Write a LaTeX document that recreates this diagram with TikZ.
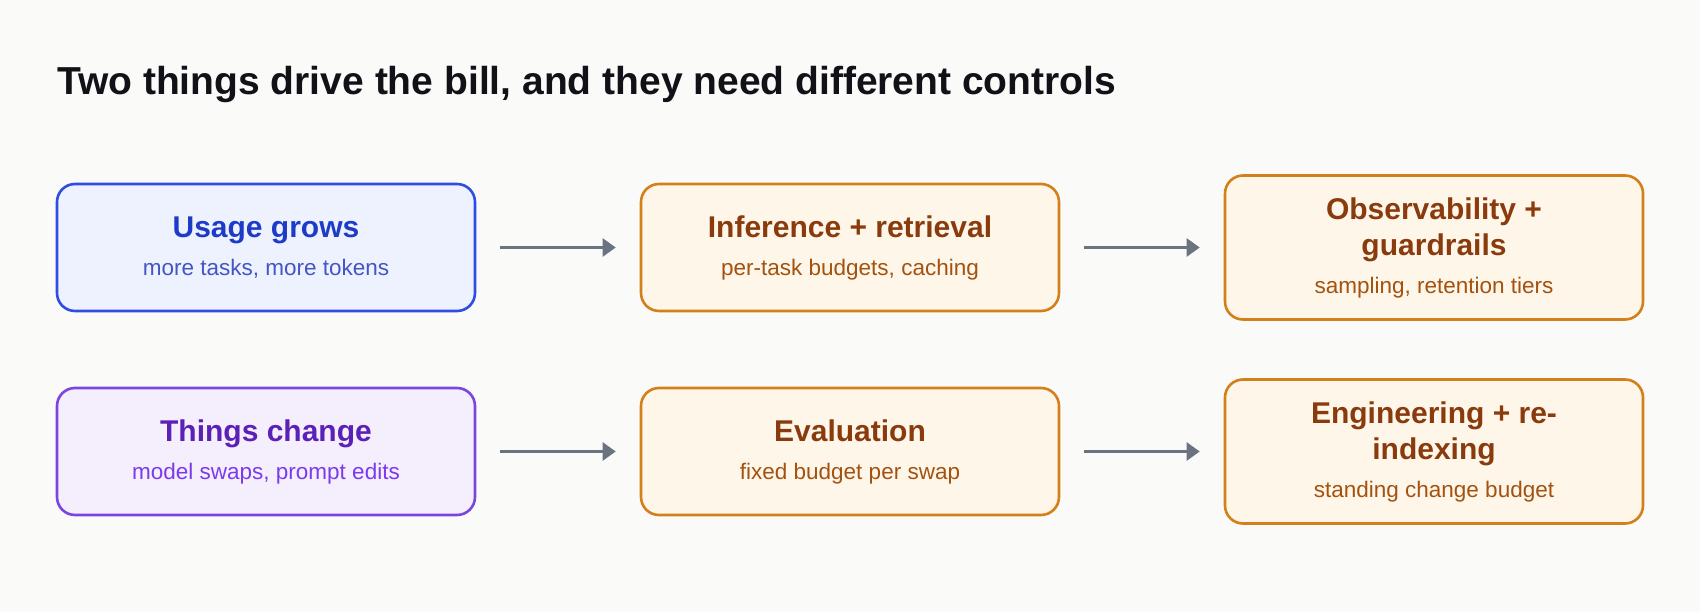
\documentclass[tikz,border=0pt]{standalone}
\usepackage{fontspec}
\setmainfont{Liberation Sans}
\usepackage{tikz}
\usetikzlibrary{arrows.meta}

\definecolor{bgcol}{HTML}{FAFAF9}
\definecolor{headcol}{HTML}{111118}
\definecolor{bluedraw}{HTML}{2D4DE3}
\definecolor{bluefill}{HTML}{EEF2FF}
\definecolor{bluehead}{HTML}{1E3BC8}
\definecolor{bluesub}{HTML}{4356C4}
\definecolor{purpdraw}{HTML}{7B45E0}
\definecolor{purpfill}{HTML}{F4EEFD}
\definecolor{purphead}{HTML}{5B21B6}
\definecolor{purpsub}{HTML}{7C3AED}
\definecolor{orandraw}{HTML}{D4801A}
\definecolor{oranfill}{HTML}{FFF6EA}
\definecolor{oranhead}{HTML}{8A3B0E}
\definecolor{oransub}{HTML}{A3520F}
\definecolor{arrowcol}{HTML}{6B7280}

\tikzset{
  card/.style={rounded corners=18pt, line width=2.6pt, minimum width=418pt,
    minimum height=127pt, align=center, inner sep=0pt,
    font=\fontsize{22.5}{38}\selectfont},
  bluecard/.style={card, draw=bluedraw, fill=bluefill},
  purpcard/.style={card, draw=purpdraw, fill=purpfill},
  orancard/.style={card, draw=orandraw, fill=oranfill},
  tallcard/.style={orancard, minimum height=144pt},
  flow/.style={-{Triangle[length=13pt,width=18pt]}, line width=2.6pt, draw=arrowcol,
    shorten <=24pt, shorten >=24pt}
}

\newcommand{\cardhead}[2]{\textcolor{#1}{\fontsize{30}{36}\selectfont\bfseries #2}}
\newcommand{\cardsub}[2]{\textcolor{#1}{#2}}

\begin{document}
\begin{tikzpicture}[x=1pt,y=-1pt]
        \fill[bgcol] (0,0) rectangle (1700,612);
        \useasboundingbox (0,0) rectangle (1700,612);
        \node[anchor=base west, inner sep=0pt, text=headcol, font=\fontsize{39}{44}\selectfont\bfseries] (heading) at (57,95) {Two things drive the bill, and they need different controls};
        % usage row
        \node[bluecard] (usage) at (266,247.5) {\cardhead{bluehead}{Usage grows}\\\cardsub{bluesub}{more tasks, more tokens}};
        \node[orancard] (infer) at (850,247.5) {\cardhead{oranhead}{Inference + retrieval}\\\cardsub{oransub}{per-task budgets, caching}};
        \node[tallcard] (observe) at (1434,247.5) {\cardhead{oranhead}{Observability +}\\[-2pt]\cardhead{oranhead}{guardrails}\\\cardsub{oransub}{sampling, retention tiers}};
        % change row
        \node[purpcard] (change) at (266,451.5) {\cardhead{purphead}{Things change}\\\cardsub{purpsub}{model swaps, prompt edits}};
        \node[orancard] (evalu) at (850,451.5) {\cardhead{oranhead}{Evaluation}\\\cardsub{oransub}{fixed budget per swap}};
        \node[tallcard] (engin) at (1434,451.5) {\cardhead{oranhead}{Engineering + re-}\\[-2pt]\cardhead{oranhead}{indexing}\\\cardsub{oransub}{standing change budget}};
        \draw[flow] (usage) -- (infer);
        \draw[flow] (infer) -- (observe);
        \draw[flow] (change) -- (evalu);
        \draw[flow] (evalu) -- (engin);
      \end{tikzpicture}
\end{document}
